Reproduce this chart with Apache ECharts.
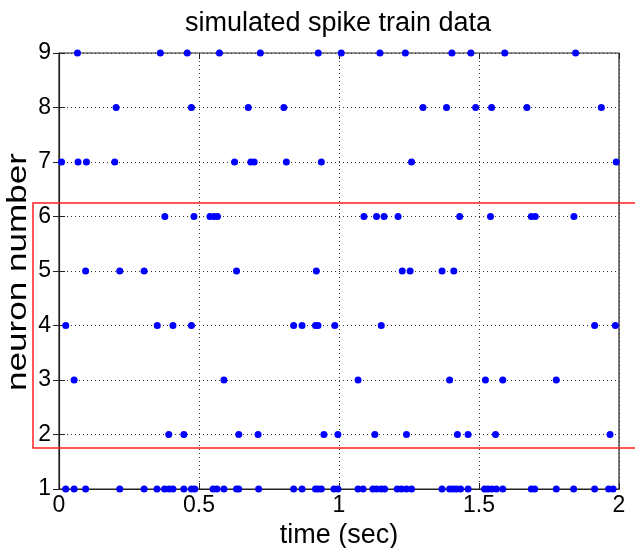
<!DOCTYPE html>
<html>
<head>
<meta charset="utf-8">
<script src="https://cdn.jsdelivr.net/npm/echarts@6/dist/echarts.min.js"></script>
<style>
  html, body { margin: 0; padding: 0; background: #fff; }
  #chart { width: 635px; height: 548px; }
</style>
</head>
<body>
<div id="chart"></div>
<script>
// spike times (sec) per neuron
var neuron1 = [0.024, 0.054, 0.095, 0.217, 0.304, 0.35, 0.377, 0.393, 0.407, 0.446, 0.473, 0.485,
  0.55, 0.564, 0.589, 0.634, 0.642, 0.713, 0.838, 0.868, 0.916, 0.925, 0.937, 0.982, 0.996,
  1.068, 1.086, 1.121, 1.134, 1.151, 1.163, 1.208, 1.223, 1.241, 1.259, 1.368, 1.395, 1.407,
  1.419, 1.434, 1.461, 1.52, 1.532, 1.546, 1.562, 1.585, 1.687, 1.699, 1.776, 1.838, 1.913, 1.963, 1.979];
var neuron2 = [0.392, 0.446, 0.642, 0.711, 0.946, 0.996, 1.128, 1.241, 1.423, 1.461, 1.559, 1.968];
var neuron3 = [0.054, 0.589, 1.068, 1.395, 1.523, 1.585, 1.776];
var neuron4 = [0.024, 0.351, 0.407, 0.473, 0.838, 0.868, 0.916, 0.925, 0.985, 1.151, 1.913, 1.987];
var neuron5 = [0.095, 0.217, 0.304, 0.634, 0.919, 1.226, 1.254, 1.368, 1.41];
var neuron6 = [0.378, 0.482, 0.539, 0.554, 0.566, 1.089, 1.134, 1.161, 1.211, 1.431, 1.541, 1.687, 1.701, 1.839];
var neuron7 = [0.009, 0.068, 0.098, 0.199, 0.627, 0.685, 0.697, 0.812, 0.937, 1.259, 1.99];
var neuron8 = [0.204, 0.473, 0.676, 0.803, 1.30, 1.384, 1.488, 1.545, 1.671, 1.937];
var neuron9 = [0.066, 0.362, 0.458, 0.573, 0.719, 0.926, 1.008, 1.146, 1.237, 1.403, 1.471, 1.592, 1.845];

var xTicks = [0, 0.5, 1, 1.5, 2];
var yTicks = [1, 2, 3, 4, 5, 6, 7, 8, 9];

var trains = [neuron1, neuron2, neuron3, neuron4, neuron5, neuron6, neuron7, neuron8, neuron9];

var points = [];
for (var n = 0; n < trains.length; n++) {
    for (var i = 0; i < trains[n].length; i++) {
        points.push([trains[n][i], n + 1]);
    }
}

var font = 'Liberation Sans, Arial, sans-serif';
var myChart = echarts.init(document.getElementById('chart'));

myChart.setOption({
    backgroundColor: '#fff',
    animation: false,
    title: {
        text: 'simulated spike train data',
        left: 333,
        textAlign: 'center',
        top: 5,
        textStyle: {fontFamily: font, fontSize: 27, fontWeight: 'normal', color: '#000'}
    },
    grid: {
        left: 59, right: 16, top: 53, bottom: 59,
        outerBoundsMode: 'none',
        containLabel: false,
        show: true, borderColor: '#222', borderWidth: 1.2
    },
    xAxis: [{
        type: 'value',
        min: xTicks[0], max: xTicks[xTicks.length - 1], interval: 0.5,
        name: 'time (sec)',
        nameLocation: 'middle',
        nameGap: 30,
        nameTextStyle: {fontFamily: font, fontSize: 27, color: '#000', verticalAlign: 'top'},
        axisLine: {show: true, lineStyle: {color: '#222', width: 1.2}},
        axisTick: {show: true, inside: true, length: 6, lineStyle: {color: '#222'}},
        axisLabel: {fontFamily: font, fontSize: 23, color: '#000', margin: 5,
            formatter: function (v) { return String(v); }},
        splitLine: {show: true, lineStyle: {color: '#333', type: [1, 3], width: 1}}
    }, {
        type: 'value', position: 'top',
        min: xTicks[0], max: xTicks[xTicks.length - 1], interval: 0.5,
        axisLine: {show: false},
        axisTick: {show: true, inside: true, length: 6, lineStyle: {color: '#222'}},
        axisLabel: {show: false},
        splitLine: {show: false}
    }],
    yAxis: [{
        type: 'value',
        min: yTicks[0], max: yTicks[yTicks.length - 1], interval: 1,
        axisLine: {show: true, lineStyle: {color: '#222', width: 1.2}},
        axisTick: {show: true, inside: true, length: 6, lineStyle: {color: '#222'}},
        axisLabel: {fontFamily: font, fontSize: 23, color: '#000', margin: 8},
        splitLine: {show: true, lineStyle: {color: '#333', type: [1, 3], width: 1}}
    }, {
        type: 'value', position: 'right',
        min: yTicks[0], max: yTicks[yTicks.length - 1], interval: 1,
        axisLine: {show: false},
        axisTick: {show: true, inside: true, length: 6, lineStyle: {color: '#222'}},
        axisLabel: {show: false},
        splitLine: {show: false}
    }],
    graphic: [{
        type: 'text',
        x: 19, y: 272,
        rotation: Math.PI / 2,
        scaleX: 1.3,
        style: {
            text: 'neuron number',
            fontFamily: font, fontSize: 27, fill: '#000',
            textAlign: 'center', textVerticalAlign: 'middle'
        }
    }, {
        type: 'rect',
        shape: {x: 33, y: 203, width: 620, height: 245},
        style: {fill: 'none', stroke: '#ff2020', lineWidth: 1.5},
        z: 100
    }],
    series: [{
        type: 'scatter',
        data: points,
        clip: false,
        symbol: 'circle',
        symbolSize: 7,
        itemStyle: {color: '#0000ff', opacity: 1}
    }]
});
</script>
</body>
</html>
